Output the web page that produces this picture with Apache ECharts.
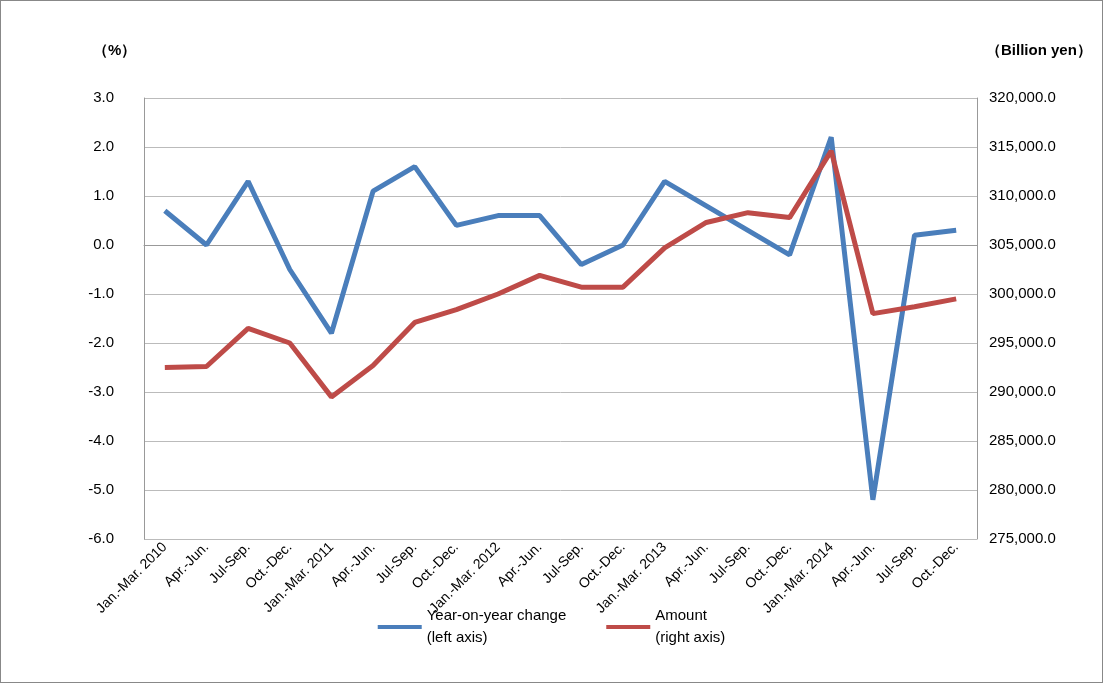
<!DOCTYPE html>
<html><head><meta charset="utf-8">
<script src="https://cdn.jsdelivr.net/npm/echarts@6/dist/echarts.min.js"></script>
<style>html,body{margin:0;padding:0;background:#fff}#c{width:1103px;height:683px;box-sizing:border-box;border:1px solid #888}</style>
</head><body><div id="c"></div>
<script>
const categories = ["Jan.-Mar. 2010","Apr.-Jun.","Jul-Sep.","Oct.-Dec.","Jan.-Mar. 2011","Apr.-Jun.","Jul-Sep.","Oct.-Dec.","Jan.-Mar. 2012","Apr.-Jun.","Jul-Sep.","Oct.-Dec.","Jan.-Mar. 2013","Apr.-Jun.","Jul-Sep.","Oct.-Dec.","Jan.-Mar. 2014","Apr.-Jun.","Jul-Sep.","Oct.-Dec."];
const yoyChange = [0.7,0.0,1.3,-0.5,-1.8,1.1,1.6,0.4,0.6,0.6,-0.4,0.0,1.3,0.8,0.3,-0.2,2.2,-5.2,0.2,0.3];
const amount = [292500,292600,296500,295000,289500,292700,297100,298400,300000,301900,300700,300700,304700,307300,308300,307800,314600,298000,298700,299500];
const chart = echarts.init(document.getElementById('c'));
const font = 'Liberation Sans, Arial, sans-serif';
chart.setOption({
  animation:false,
  textStyle:{fontFamily:font,color:'#000'},
  grid:{left:143,right:125,top:97,bottom:143},
  graphic:[
    {type:'text',left:92,top:42,style:{text:'（%）',font:'bold 15px '+font,fill:'#000'}},
    {type:'text',left:985,top:42,style:{text:'（Billion yen）',font:'bold 15px '+font,fill:'#000'}}
  ],
  legend:{bottom:28,left:'center',itemWidth:44,itemHeight:4,itemGap:40,icon:'rect',
    textStyle:{fontSize:15,fontFamily:font,color:'#000',lineHeight:22},
    data:['Year-on-year change\n(left axis)','Amount\n(right axis)']},
  xAxis:{type:'category',data:categories,boundaryGap:true,
    axisLine:{onZero:true,onZeroAxisIndex:0,lineStyle:{color:'#999'}},axisTick:{show:false},
    axisLabel:{rotate:45,interval:0,fontSize:14,color:'#000',margin:6}},
  yAxis:[
    {type:'value',min:-6,max:3,interval:1,
      axisLine:{show:true,lineStyle:{color:'#999'}},axisTick:{show:false},
      splitLine:{lineStyle:{color:'#bbb'}},
      axisLabel:{formatter:v=>v.toFixed(1),fontSize:15,color:'#000',margin:30}},
    {type:'value',min:275000,max:320000,interval:5000,
      axisLine:{show:true,lineStyle:{color:'#999'}},axisTick:{show:false},splitLine:{show:false},
      axisLabel:{formatter:v=>v.toLocaleString('en-US')+'.0',fontSize:15,color:'#000',margin:12}}
  ],
  series:[
    {name:'Year-on-year change\n(left axis)',type:'line',yAxisIndex:0,data:yoyChange,symbol:'none',
      lineStyle:{width:5,color:'#4a7ebb'},itemStyle:{color:'#4a7ebb'},z:3},
    {name:'Amount\n(right axis)',type:'line',yAxisIndex:1,data:amount,symbol:'none',
      lineStyle:{width:5,color:'#be4b48'},itemStyle:{color:'#be4b48'},z:4}
  ]
});
</script></body></html>
